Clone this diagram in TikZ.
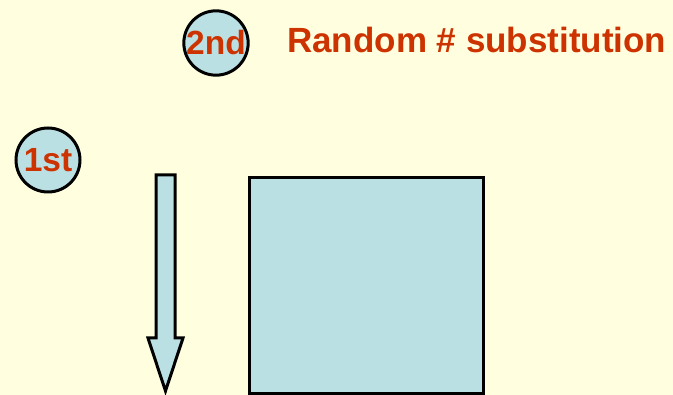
\documentclass[tikz,border=0pt]{standalone}
\usepackage{fontspec}
\setmainfont{Liberation Sans}
\definecolor{bg}{HTML}{FFFFE0}
\definecolor{lblue}{HTML}{BBE0E3}
\definecolor{txt}{HTML}{CC3300}
\begin{document}
\begin{tikzpicture}[x=1pt,y=-1pt,
  shapebox/.style={draw=black,fill=lblue,line width=3pt},
  circ/.style={circle,draw=black,fill=lblue,line width=3pt,minimum size=64pt,inner sep=0pt,text=txt,font=\fontsize{33.5}{36}\selectfont\bfseries},
  label/.style={text=txt,font=\fontsize{35}{40}\selectfont\bfseries,inner sep=0pt,anchor=base west}]
\useasboundingbox[fill=bg] (0,0) rectangle (673,395);
\node[circ] (second) at (216,43) {2nd};
\node[circ] (first) at (48,160) {1st};
\node[label] (title) at (287,53) {Random \# substitution};
\draw[shapebox] (156,175) -- (175,175) -- (175,338) -- (183,338) -- (165.5,391) -- (148,338) -- (156,338) -- cycle;
\node[shapebox,minimum width=234pt,minimum height=216pt,inner sep=0pt,anchor=north west] (box) at (248,176) {};
\end{tikzpicture}
\end{document}
